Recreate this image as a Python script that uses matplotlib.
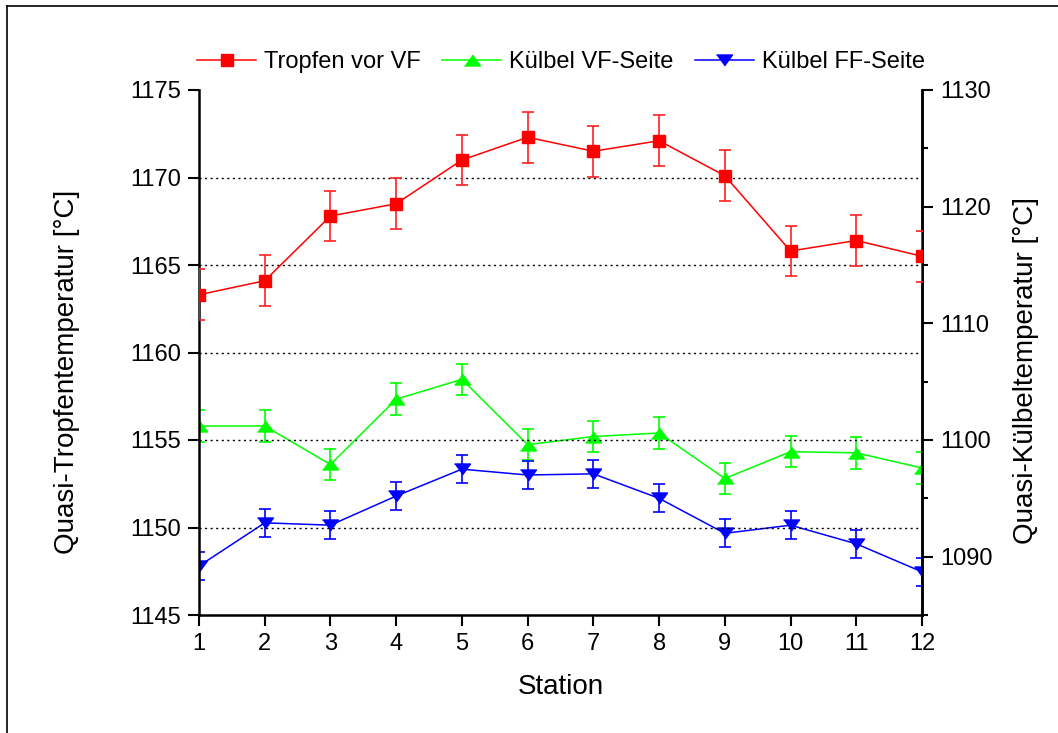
import matplotlib.pyplot as plt
from matplotlib.lines import Line2D
from matplotlib.ticker import MultipleLocator

plt.rcParams['font.family'] = ['Liberation Sans', 'DejaVu Sans']

# DATA

station = [1, 2, 3, 4, 5, 6, 7, 8, 9, 10, 11, 12]

tropfen = [1163.3, 1164.1, 1167.8, 1168.5, 1171.0, 1172.3,
           1171.5, 1172.1, 1170.1, 1165.8, 1166.4, 1165.5]
tropfen_err = [1.45] * 12

kuelbel_vf = [1101.2, 1101.2, 1097.9, 1103.5, 1105.2, 1099.6,
              1100.3, 1100.6, 1096.7, 1099.0, 1098.9, 1097.6]
kuelbel_vf_err = [1.35] * 12

kuelbel_ff = [1089.2, 1092.9, 1092.7, 1095.2, 1097.5, 1097.0,
              1097.1, 1095.0, 1092.0, 1092.7, 1091.1, 1088.7]
kuelbel_ff_err = [1.2] * 12

labels = ['Tropfen vor VF', 'Külbel VF-Seite', 'Külbel FF-Seite']

# FLAT TRIANGLES LIKE THE ORIGINAL

tri_up = [(-1, -0.69), (1, -0.69), (0, 0.69)]
tri_down = [(-1, 0.69), (1, 0.69), (0, -0.69)]

W, H = 1058, 733
fig = plt.figure(figsize=(W / 100, H / 100), dpi=100)
ax = fig.add_axes([199 / W, 1 - 615 / H, 723 / W, 525 / H])
ax2 = ax.twinx()

# LEFT AXIS: TROPFEN

ax.errorbar(station, tropfen, yerr=tropfen_err, fmt='none', ecolor='#ff2020',
            elinewidth=1.2, capsize=4, capthick=1.2, zorder=3)
l1, = ax.plot(station, tropfen, color='#ff0000', lw=1.1, marker='s',
              markersize=8, label=labels[0], zorder=4)

# RIGHT AXIS: KUELBEL

ax2.errorbar(station, kuelbel_vf, yerr=kuelbel_vf_err, fmt='none', ecolor='#00ff00',
             elinewidth=1.2, capsize=4.4, capthick=1.2, zorder=3)
l2, = ax2.plot(station, kuelbel_vf, color='#00ff00', lw=1.1, marker=tri_up,
               markersize=11.5, label=labels[1], zorder=4)
ax2.errorbar(station, kuelbel_ff, yerr=kuelbel_ff_err, fmt='none', ecolor='#0000ff',
             elinewidth=1.2, capsize=4.4, capthick=1.2, zorder=3)
l3, = ax2.plot(station, kuelbel_ff, color='#0000ff', lw=1.1, marker=tri_down,
               markersize=11.5, label=labels[2], zorder=4)

ax.set_xlim(1, 12)
ax.set_ylim(1145, 1175)
ax2.set_ylim(1085, 1130)
ax.set_xticks(station)
ax.yaxis.set_major_locator(MultipleLocator(5))
ax2.yaxis.set_major_locator(MultipleLocator(10))
ax2.yaxis.set_minor_locator(MultipleLocator(5))

# DOTTED GRID AT INNER LEFT TICKS

for v in [1150, 1155, 1160, 1165, 1170]:
    ax.axhline(v, color='black', lw=1, ls=(0, (1.5, 2.5)), zorder=1)

for a in (ax, ax2):
    a.spines['top'].set_visible(False)
    for s in a.spines.values():
        s.set_linewidth(1.8)
ax2.spines['left'].set_visible(False)
ax2.spines['bottom'].set_visible(False)

ax.tick_params(axis='both', direction='out', length=8, width=1.5,
               labelsize=17, pad=5)
ax2.tick_params(axis='y', which='major', direction='out', length=8, width=1.5,
                labelsize=17, pad=5)
ax2.tick_params(axis='y', which='minor', direction='out', length=4, width=1.5)

ax.set_xlabel('Station', fontsize=20, labelpad=14)
ax.set_ylabel('Quasi-Tropfentemperatur [°C]', fontsize=20)
ax.yaxis.set_label_coords(-0.165, 0.463)
ax2.set_ylabel('Quasi-Külbeltemperatur [°C]', fontsize=20)
ax2.yaxis.set_label_coords(1.126, 0.465)

ax.set_zorder(ax2.get_zorder() + 1)
ax.patch.set_visible(False)

fig.legend(handles=[l1, l2, l3], loc='center', ncol=3, frameon=False,
           fontsize=17, numpoints=1, handlelength=2.5, handletextpad=0.33,
           columnspacing=0.9, bbox_to_anchor=(561 / W, 1 - 62 / H))

# OUTER FRAME (LEFT AND TOP EDGES)

fig.add_artist(Line2D([7 / W, 7 / W], [0, 1 - 6 / H], transform=fig.transFigure,
                      color='black', lw=1.2))
fig.add_artist(Line2D([7 / W, 1], [1 - 6 / H, 1 - 6 / H], transform=fig.transFigure,
                      color='black', lw=1.2))

fig.savefig('out.png', dpi=100)
